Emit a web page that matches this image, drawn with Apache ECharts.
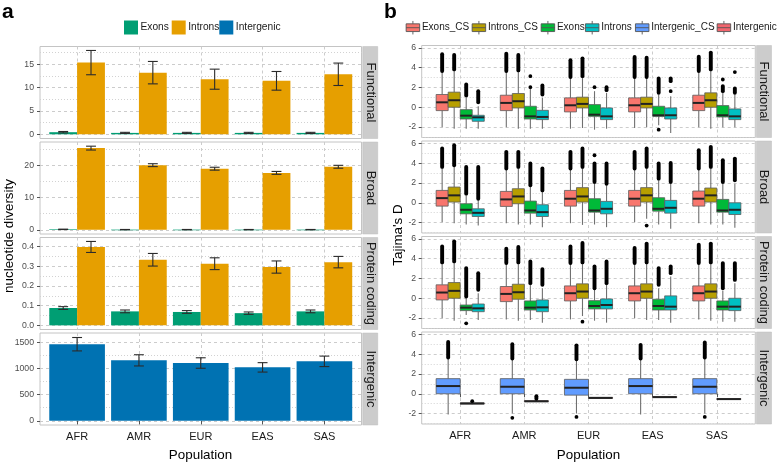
<!DOCTYPE html>
<html><head><meta charset="utf-8">
<script src="https://cdn.jsdelivr.net/npm/echarts@6/dist/echarts.min.js"></script>
<style>html,body{margin:0;padding:0;background:#fff}#c{width:778px;height:464px}</style>
</head><body><div id="c"></div><script>
// ---------- categories ----------
const populations = ['AFR','AMR','EUR','EAS','SAS'];
const popTicks = populations.map((p, i) => i + 1);

// ---------- panel a: nucleotide diversity (mean, error) ----------
const funcExonsMean = [0.45, 0.3, 0.3, 0.3, 0.3];
const funcExonsErr  = [0.15, 0.12, 0.12, 0.12, 0.12];
const funcIntronsMean = [15.35, 13.2, 11.8, 11.45, 12.85];
const funcIntronsErr  = [2.6, 2.4, 2.15, 2.0, 2.4];
const broadExonsMean = [0.15, 0.06, 0.06, 0.06, 0.06];
const broadExonsErr  = [0.06, 0.05, 0.05, 0.05, 0.05];
const broadIntronsMean = [25.4, 20.1, 19.0, 17.7, 19.6];
const broadIntronsErr  = [0.6, 0.45, 0.45, 0.45, 0.45];
const protExonsMean = [0.088, 0.071, 0.068, 0.062, 0.071];
const protExonsErr  = [0.007, 0.007, 0.007, 0.006, 0.007];
const protIntronsMean = [0.398, 0.333, 0.313, 0.296, 0.321];
const protIntronsErr  = [0.028, 0.032, 0.03, 0.031, 0.029];
const intergenicMean = [1462, 1154, 1103, 1020, 1135];
const intergenicErr  = [128, 107, 100, 90, 100];

// tick labels (panel a)
const funcTicks = [0, 5, 10, 15];           const funcMinor = [2.5, 7.5, 12.5, 17.5];
const broadTicks = [0, 10, 20];             const broadMinor = [5, 15, 25];
const protTicks = [0, 0.1, 0.2, 0.3, 0.4];  const protMinor = [0.05, 0.15, 0.25, 0.35];
const interTicks = [0, 500, 1000, 1500];    const interMinor = [250, 750, 1250];
// tick labels (panel b)
const tajimaTicks = [-2, 0, 2, 4, 6];       const tajimaMinor = [-3, -1, 1, 3, 5];

// ---------- panel b: Tajima's D boxplots [low whisker, Q1, median, Q3, high whisker] ----------
const fExonsCS = [[-2.03,-0.34,0.5,1.29,3.66],[-2.03,-0.34,0.44,1.22,3.66],[-2.17,-0.47,0.2,0.95,3.05],[-2.1,-0.47,0.2,0.95,3.05],[-2.03,-0.34,0.44,1.22,3.66]];
const fIntronsCS = [[-2.17,0,0.71,1.53,3.83],[-2.17,-0.07,0.61,1.39,3.73],[-2.1,-0.07,0.34,1.02,3.15],[-2.03,-0.07,0.34,1.02,3.05],[-2.17,0,0.71,1.46,3.83]];
const fExons = [[-2.17,-1.19,-0.85,-0.24,1.12],[-2.17,-1.19,-0.92,0.1,1.9],[-2.27,-0.92,-0.75,0.27,1.63],[-1.83,-0.92,-0.81,0.1,1.29],[-2.03,-0.98,-0.81,0.17,1.46]];
const fIntrons = [[-2.17,-1.42,-1.02,-0.81,0.1],[-2.17,-1.25,-0.98,-0.31,0.95],[-2.17,-1.25,-0.92,-0.07,1.46],[-2.61,-1.19,-0.81,-0.07,1.12],[-2.03,-1.25,-0.92,-0.17,1.29]];
const bExonsCS = [[-1.97,-0.34,0.47,1.25,3.63],[-2.07,-0.37,0.34,1.15,3.46],[-2.07,-0.34,0.41,1.25,3.46],[-1.97,-0.34,0.41,1.25,3.46],[-2.07,-0.34,0.41,1.19,3.46]];
const bIntronsCS = [[-2.07,0.07,0.75,1.59,3.8],[-2.2,-0.1,0.64,1.42,3.63],[-2.24,0.07,0.64,1.53,3.63],[-1.63,0.07,0.75,1.53,3.63],[-2.2,0.07,0.75,1.49,3.63]];
const bExons = [[-2.2,-1.12,-0.71,-0.1,0.75],[-2.2,-1.05,-0.78,0.17,1.59],[-2.2,-0.95,-0.78,0.41,1.93],[-2.2,-0.85,-0.61,0.51,2.27],[-2.2,-0.95,-0.78,0.34,1.93]];
const bIntrons = [[-2.31,-1.39,-1.02,-0.61,0.24],[-2.47,-1.39,-0.95,-0.2,1.08],[-2.47,-1.12,-0.61,0.14,1.76],[-2.64,-1.05,-0.51,0.24,1.93],[-2.54,-1.19,-0.71,0,1.93]];
const pExonsCS = [[-2.03,-0.17,0.58,1.36,3.63],[-2.14,-0.34,0.44,1.19,3.56],[-2.14,-0.27,0.51,1.25,3.56],[-2.03,-0.27,0.51,1.25,3.56],[-2.14,-0.27,0.51,1.25,3.56]];
const pIntronsCS = [[-2.27,0,0.75,1.59,3.73],[-2.27,-0.1,0.61,1.42,3.63],[-1.8,0,0.68,1.46,3.63],[-2.2,0,0.68,1.46,3.63],[-2.27,0,0.68,1.46,3.63]];
const pExons = [[-1.7,-1.25,-0.95,-0.68,0],[-2.2,-1.19,-0.95,-0.27,1.36],[-2.27,-1.08,-0.78,-0.24,0.85],[-2.2,-1.19,-0.78,-0.1,1.02],[-2.37,-1.19,-0.85,-0.27,0.75]];
const pIntrons = [[-2.2,-1.36,-1.02,-0.58,0.51],[-2.47,-1.36,-0.92,-0.17,1.02],[-2.47,-1.08,-0.68,-0.07,1.36],[-2.47,-1.19,-0.85,0.24,2.2],[-2.37,-1.25,-0.85,0,1.53]];
const iIntergenicCS = [[-2.1,0,0.78,1.53,3.66],[-2.0,0,0.71,1.53,3.56],[-2.0,-0.14,0.61,1.46,3.49],[-2.1,0,0.78,1.53,3.56],[-2.0,0,0.71,1.53,3.66]];
const iIntergenic = [[-1.06,-1.04,-0.98,-0.93,-0.91],[-0.82,-0.8,-0.76,-0.71,-0.69],[-0.48,-0.46,-0.42,-0.37,-0.35],[-0.4,-0.38,-0.34,-0.29,-0.27],[-0.6,-0.58,-0.54,-0.49,-0.47]];

// outliers: per population, list of [from, to] (dense runs) or single points [v, v]
const fExonsCSOut = [[[3.66,5.36]],[[3.66,5.42]],[[3.05,4.75]],[[3.05,5.08]],[[3.66,5.12]]];
const fIntronsCSOut = [[[3.83,5.29]],[[3.73,5.29]],[[3.15,4.95]],[[3.05,5.02]],[[3.83,5.53]]];
const fExonsOut = [[[1.2,2.3]],[[2.03,2.03],[3.15,3.15]],[[2.03,2.03]],[[1.46,2.92],[-2.27,-2.27]],[[1.63,2.14],[2.81,2.81]]];
const fIntronsOut = [[[0.5,1.63]],[[1.29,2.2]],[[1.73,2.03]],[[1.63,1.63],[2.64,2.92]],[[1.46,1.9],[3.56,3.56]]];
const bExonsCSOut = [[[3.63,5.49]],[[3.46,5.15]],[[3.46,5.15]],[[3.46,5.15]],[[3.46,5.32]]];
const bIntronsCSOut = [[[3.8,5.83]],[[3.63,5.15]],[[3.63,5.49]],[[3.63,5.49],[-2.31,-2.31]],[[3.63,5.66]]];
const bExonsOut = [[[0.92,3.63]],[[1.76,3.97]],[[2.1,3.97],[4.81,4.81]],[[2.44,3.97]],[[2.1,4.31]]];
const bIntronsOut = [[[0.41,3.63]],[[1.25,3.46]],[[1.93,3.97]],[[2.1,4.03]],[[2.27,4.47]]];
const pExonsCSOut = [[[3.63,5.25]],[[3.56,5.02]],[[3.56,5.25]],[[3.56,5.08]],[[3.56,5.42]]];
const pIntronsCSOut = [[[3.73,5.76]],[[3.63,5.19]],[[3.63,5.59],[-2.37,-2.37]],[[3.63,5.53]],[[3.63,5.53]]];
const pExonsOut = [[[0.17,3.05],[-2.54,-2.54]],[[1.53,3.73]],[[1.02,3.22]],[[1.36,3.05]],[[1.02,3.56]]];
const pIntronsOut = [[[0.85,2.54]],[[1.36,2.95]],[[1.53,3.73]],[[2.54,3.22]],[[1.86,3.56]]];
const iIntergenicCSOut = [[[3.66,5.25]],[[3.56,5.02],[-2.44,-2.44]],[[3.49,4.9],[-2.34,-2.34]],[[3.56,4.95]],[[3.66,5.19],[-2.34,-2.34]]];
const iIntergenicOut = [[[-0.75,-0.75]],[[-0.5,-0.24]],[],[],[]];

// ---------- styling / layout ----------
const FONT = '"Liberation Sans", Arial, Helvetica, sans-serif';
const COL_A = {Exons:'#009E73', Introns:'#E69F00', Intergenic:'#0072B2'};
const COL_B = {Exons_CS:'#F8766D', Introns_CS:'#B79F00', Exons:'#00BA38', Introns:'#00BFC4', Intergenic_CS:'#619CFF', Intergenic:'#F2656E'};
const A_LEFT = 40, A_W = 321.5, B_LEFT = 421.7, B_W = 333.6, PH = 92;
const A_TOPS = [46.5, 142, 237.5, 333], B_TOPS = [45.5, 141, 236.5, 332];
const fmtInt = v => String(v);
const fmt1 = v => v.toFixed(1);

const panels = [
  {left:A_LEFT, width:A_W, top:A_TOPS[0], range:[-0.9,18.8], ticks:funcTicks, minor:funcMinor, fmt:fmtInt, strip:'Functional', margin:6},
  {left:A_LEFT, width:A_W, top:A_TOPS[1], range:[-1.3,27.3], ticks:broadTicks, minor:broadMinor, fmt:fmtInt, strip:'Broad', margin:6},
  {left:A_LEFT, width:A_W, top:A_TOPS[2], range:[-0.021,0.446], ticks:protTicks, minor:protMinor, fmt:fmt1, strip:'Protein coding', margin:6},
  {left:A_LEFT, width:A_W, top:A_TOPS[3], range:[-80,1676], ticks:interTicks, minor:interMinor, fmt:fmtInt, strip:'Intergenic', margin:6, bottom:true},
  {left:B_LEFT, width:B_W, top:B_TOPS[0], range:[-3.06,6.25], ticks:tajimaTicks, minor:tajimaMinor, fmt:fmtInt, strip:'Functional', margin:5.5},
  {left:B_LEFT, width:B_W, top:B_TOPS[1], range:[-3.06,6.25], ticks:tajimaTicks, minor:tajimaMinor, fmt:fmtInt, strip:'Broad', margin:5.5},
  {left:B_LEFT, width:B_W, top:B_TOPS[2], range:[-3.06,6.25], ticks:tajimaTicks, minor:tajimaMinor, fmt:fmtInt, strip:'Protein coding', margin:5.5},
  {left:B_LEFT, width:B_W, top:B_TOPS[3], range:[-3.06,6.25], ticks:tajimaTicks, minor:tajimaMinor, fmt:fmtInt, strip:'Intergenic', margin:5.5, bottom:true}
];

const grids = [], xAxes = [], yAxes = [], graphics = [];
panels.forEach((p, i) => {
  grids.push({left:p.left, top:p.top, width:p.width, height:PH, show:true, backgroundColor:'#fff',
    borderColor:'#c4c4c4', borderWidth:1, containLabel:false, outerBoundsMode:'none'});
  xAxes.push({gridIndex:i, type:'value', min:0.4, max:5.6,
    axisLine:{show:false},
    axisTick:{show:!!p.bottom, length:3.5, customValues:popTicks, lineStyle:{color:'#555', width:1}},
    axisLabel:{show:!!p.bottom, customValues:popTicks, formatter:v => populations[Math.round(v)-1],
      fontSize:11, color:'#1a1a1a', fontFamily:FONT, margin:6.5},
    splitLine:{show:true, lineStyle:{color:'#cccccc', width:1, type:[3,3]}}});
  yAxes.push({gridIndex:i, type:'value', min:p.range[0], max:p.range[1],
    axisLine:{show:false},
    axisTick:{show:true, length:3, customValues:p.ticks, lineStyle:{color:'#555', width:1}},
    axisLabel:{show:true, customValues:p.ticks, formatter:p.fmt, fontSize:8.7, color:'#4d4d4d', fontFamily:FONT, margin:p.margin},
    splitLine:{show:true, lineStyle:{color:'#cccccc', width:1, type:[3,3]}}});
  yAxes.push({gridIndex:i, type:'value', min:p.range[0], max:p.range[1],
    axisLine:{show:false},
    axisTick:{show:false, customValues:p.minor},
    axisLabel:{show:false, customValues:p.minor},
    splitLine:{show:true, lineStyle:{color:'#d2d2d2', width:1, type:[1,2]}}});
  // facet strip
  const sx = p.left + p.width + 1.2, sw = 15;
  graphics.push({type:'rect', silent:true, shape:{x:sx, y:p.top, width:sw, height:PH},
    style:{fill:'#cccccc', stroke:'#bdbdbd', lineWidth:0.5}});
  graphics.push({type:'text', silent:true, x:sx + sw/2, y:p.top + PH/2, rotation:-Math.PI/2,
    style:{text:p.strip, fill:'#1a1a1a', font:'13px ' + FONT, align:'center', verticalAlign:'middle'}});
});

// titles
graphics.push({type:'text', silent:true, x:2, y:12, style:{text:'a', fill:'#000', font:'bold 21px ' + FONT, align:'left', verticalAlign:'middle'}});
graphics.push({type:'text', silent:true, x:384, y:12, style:{text:'b', fill:'#000', font:'bold 21px ' + FONT, align:'left', verticalAlign:'middle'}});
graphics.push({type:'text', silent:true, x:200.5, y:455, style:{text:'Population', fill:'#000', font:'13.4px ' + FONT, align:'center', verticalAlign:'middle'}});
graphics.push({type:'text', silent:true, x:588.5, y:455, style:{text:'Population', fill:'#000', font:'13.4px ' + FONT, align:'center', verticalAlign:'middle'}});
graphics.push({type:'text', silent:true, x:9, y:236, rotation:Math.PI/2, style:{text:'nucleotide diversity', fill:'#000', font:'13.4px ' + FONT, align:'center', verticalAlign:'middle'}});
graphics.push({type:'text', silent:true, x:398.6, y:235, rotation:Math.PI/2, style:{text:"Tajima's D", fill:'#000', font:'13.4px ' + FONT, align:'center', verticalAlign:'middle'}});

// ---------- series builders ----------
function barSeries(name, color, panel, means, errs, offset, width) {
  const data = means.map((m, i) => [i + 1 + offset, m, errs[i], width]);
  return {type:'custom', name, xAxisIndex:panel, yAxisIndex:panel*2, itemStyle:{color}, data, silent:true,
    renderItem:(params, api) => {
      const x = api.value(0), v = api.value(1), e = api.value(2), w = api.value(3);
      const p0 = api.coord([x - w/2, 0]), p1 = api.coord([x + w/2, v]);
      const cap = 0.16;
      const yt = api.coord([x, v + e])[1], yb = api.coord([x, v - e])[1];
      const xc = api.coord([x, v])[0];
      const xl = api.coord([x - cap/2, v])[0], xr = api.coord([x + cap/2, v])[0];
      const ls = {stroke:'#2b2b2b', lineWidth:1.1};
      return {type:'group', children:[
        {type:'rect', shape:{x:p0[0], y:Math.min(p0[1],p1[1]), width:p1[0]-p0[0], height:Math.max(Math.abs(p0[1]-p1[1]),0.6)}, style:{fill:color}},
        {type:'line', shape:{x1:xc, y1:yt, x2:xc, y2:yb}, style:ls},
        {type:'line', shape:{x1:xl, y1:yt, x2:xr, y2:yt}, style:ls},
        {type:'line', shape:{x1:xl, y1:yb, x2:xr, y2:yb}, style:ls}
      ]};
    }};
}

function boxSeries(name, color, panel, boxes, offset, width) {
  const data = boxes.map((b, i) => [i + 1 + offset, b[0], b[1], b[2], b[3], b[4], width]);
  return {type:'custom', name:'b_' + name, xAxisIndex:panel, yAxisIndex:panel*2, itemStyle:{color}, data, silent:true,
    renderItem:(params, api) => {
      const x = api.value(0), w = api.value(6);
      const lo = api.value(1), q1 = api.value(2), med = api.value(3), q3 = api.value(4), hi = api.value(5);
      const pl = api.coord([x - w/2, q3]), pr = api.coord([x + w/2, q1]);
      const c = api.coord([x, med]);
      const yLo = api.coord([x, lo])[1], yHi = api.coord([x, hi])[1];
      const ws = {stroke:'#707070', lineWidth:1.1};
      return {type:'group', children:[
        {type:'line', shape:{x1:c[0], y1:yHi, x2:c[0], y2:pl[1]}, style:ws},
        {type:'line', shape:{x1:c[0], y1:pr[1], x2:c[0], y2:yLo}, style:ws},
        {type:'rect', shape:{x:pl[0], y:pl[1], width:pr[0]-pl[0], height:pr[1]-pl[1]}, style:{fill:color, stroke:'#5a5a5a', lineWidth:0.8}},
        {type:'line', shape:{x1:pl[0], y1:c[1], x2:pr[0], y2:c[1]}, style:{stroke:'#222', lineWidth:2}}
      ]};
    }};
}

function outlierSeries(panel, groups) {
  const data = [];
  groups.forEach(g => g.out.forEach((runs, i) => runs.forEach(r => data.push([i + 1 + g.offset, r[0], r[1]]))));
  return {type:'custom', name:'outliers', xAxisIndex:panel, yAxisIndex:panel*2, data, silent:true,
    renderItem:(params, api) => {
      const x = api.value(0), a = api.value(1), b = api.value(2);
      const p1 = api.coord([x, a]), p2 = api.coord([x, b]);
      if (Math.abs(p1[1] - p2[1]) < 0.5) {
        return {type:'circle', shape:{cx:p1[0], cy:p1[1], r:1.9}, style:{fill:'#000'}};
      }
      return {type:'line', shape:{x1:p1[0], y1:p1[1], x2:p2[0], y2:p2[1]}, style:{stroke:'#000', lineWidth:3.9, lineCap:'round'}};
    }};
}

const series = [];
// panel a
series.push(barSeries('Exons', COL_A.Exons, 0, funcExonsMean, funcExonsErr, -0.225, 0.45));
series.push(barSeries('Introns', COL_A.Introns, 0, funcIntronsMean, funcIntronsErr, 0.225, 0.45));
series.push(barSeries('Exons', COL_A.Exons, 1, broadExonsMean, broadExonsErr, -0.225, 0.45));
series.push(barSeries('Introns', COL_A.Introns, 1, broadIntronsMean, broadIntronsErr, 0.225, 0.45));
series.push(barSeries('Exons', COL_A.Exons, 2, protExonsMean, protExonsErr, -0.225, 0.45));
series.push(barSeries('Introns', COL_A.Introns, 2, protIntronsMean, protIntronsErr, 0.225, 0.45));
series.push(barSeries('Intergenic', COL_A.Intergenic, 3, intergenicMean, intergenicErr, 0, 0.9));

// panel b
const OFF4 = [-0.28125, -0.09375, 0.09375, 0.28125], W4 = 0.1875;
const facetB = [
  {panel:4, sets:[[fExonsCS,fExonsCSOut],[fIntronsCS,fIntronsCSOut],[fExons,fExonsOut],[fIntrons,fIntronsOut]]},
  {panel:5, sets:[[bExonsCS,bExonsCSOut],[bIntronsCS,bIntronsCSOut],[bExons,bExonsOut],[bIntrons,bIntronsOut]]},
  {panel:6, sets:[[pExonsCS,pExonsCSOut],[pIntronsCS,pIntronsCSOut],[pExons,pExonsOut],[pIntrons,pIntronsOut]]}
];
const names4 = ['Exons_CS','Introns_CS','Exons','Introns'];
facetB.forEach(f => {
  f.sets.forEach((s, k) => series.push(boxSeries(names4[k], COL_B[names4[k]], f.panel, s[0], OFF4[k], W4)));
  series.push(outlierSeries(f.panel, f.sets.map((s, k) => ({out:s[1], offset:OFF4[k]}))));
});
series.push(boxSeries('Intergenic_CS', COL_B.Intergenic_CS, 7, iIntergenicCS, -0.1875, 0.375));
series.push(boxSeries('Intergenic', COL_B.Intergenic, 7, iIntergenic, 0.1875, 0.375));
series.push(outlierSeries(7, [{out:iIntergenicCSOut, offset:-0.1875},{out:iIntergenicOut, offset:0.1875}]));

// ---------- legends ----------
const legendsA = [['Exons',124],['Introns',171.7],['Intergenic',219.3]].map(([n, l]) => ({
  data:[n], left:l, top:20.5, itemWidth:14, itemHeight:14, icon:'rect', selectedMode:false,
  textStyle:{color:'#1a1a1a', fontSize:10.2, fontFamily:FONT, padding:[0,0,0,-2.5]}, padding:0, itemStyle:{borderWidth:0}}));
const boxIcon = 'path://M0,3H14V11H0Z M0,7H14 M7,0V3 M7,11V14';
const legendsB = [['Exons_CS',405.7],['Introns_CS',471.7],['Exons',540.7],['Introns',585],['Intergenic_CS',635],['Intergenic',716.7]].map(([n, l]) => ({
  data:['b_' + n], left:l, top:20.5, itemWidth:14, itemHeight:13.5, icon:boxIcon, selectedMode:false,
  formatter:s => s.replace('b_', ''), textStyle:{color:'#1a1a1a', fontSize:10, fontFamily:FONT, padding:[0,0,0,-3]}, padding:0,
  itemStyle:{borderColor:'#555', borderWidth:0.9}}));

const chart = echarts.init(document.getElementById('c'), null, {renderer:'canvas', width:778, height:464});
chart.setOption({
  animation:false,
  backgroundColor:'#fff',
  textStyle:{fontFamily:FONT},
  grid:grids, xAxis:xAxes, yAxis:yAxes,
  legend:legendsA.concat(legendsB),
  graphic:graphics,
  series
});
</script></body></html>
